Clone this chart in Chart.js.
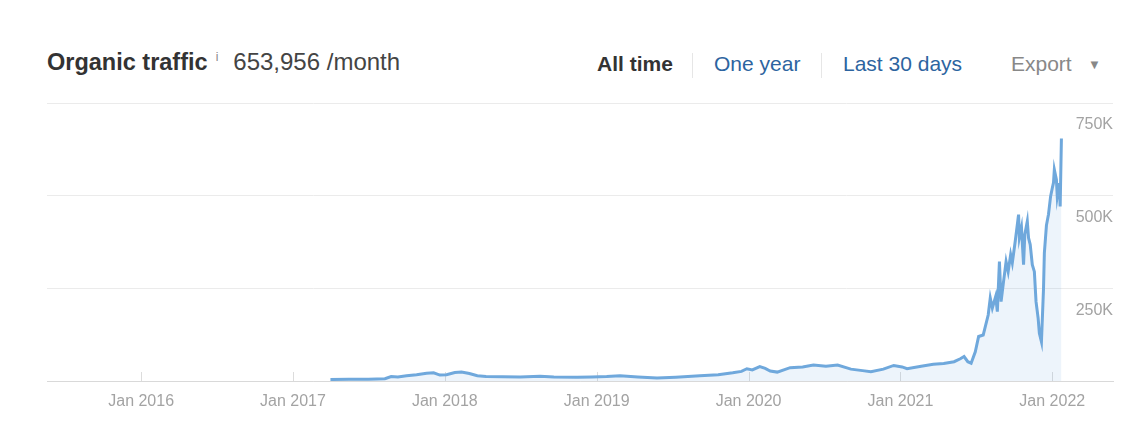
<!DOCTYPE html>
<html>
<head>
<meta charset="utf-8">
<script src="https://cdn.jsdelivr.net/npm/chart.js@4/dist/chart.umd.min.js"></script>
<style>
  html, body { margin: 0; padding: 0; background: #fff; }
  body { width: 1138px; height: 432px; position: relative; overflow: hidden; font-family: "Liberation Sans", Arial, sans-serif; }
  .head { position: absolute; top: 48px; left: 47px; white-space: nowrap; }
  .title { font-size: 23.5px; font-weight: bold; color: #333; }
  .info { font-size: 12px; color: #888; position: relative; top: -9px; margin-left: 8px; }
  .value { font-size: 24px; color: #444; margin-left: 15px; }
  .nav { position: absolute; top: 52px; left: 597px; white-space: nowrap; font-size: 21px; }
  .nav span { position: absolute; top: 0; }
  .sep { position: absolute; top: 53px; width: 1px; height: 25px; background: #e6e6e6; }
  #wrap { position: absolute; left: 0; top: 90px; width: 1138px; height: 342px; }
</style>
</head>
<body>
<div class="head"><span class="title">Organic traffic</span><span class="info">i</span><span class="value">653,956 /month</span></div>
<div class="nav">
  <span style="left:0; font-weight:bold; color:#333;">All time</span>
  <span style="left:117px; color:#2d64a0;">One year</span>
  <span style="left:246px; color:#2d64a0;">Last 30 days</span>
  <span style="left:414px; color:#888;">Export</span>
  <span style="left:491px; top:5px; color:#888; font-size:13px;">&#9660;</span>
</div>
<div class="sep" style="left:692px;"></div>
<div class="sep" style="left:821px;"></div>
<div id="wrap"><canvas id="trafficChart"></canvas></div>
<script>
// organic traffic readings (date, visits per month)
const dates = [
  '2017-04-01', '2017-05-15', '2017-07-01', '2017-08-10', '2017-08-25', '2017-09-10',
  '2017-10-01', '2017-10-25', '2017-11-18', '2017-12-05', '2017-12-20', '2018-01-05',
  '2018-01-25', '2018-02-10', '2018-03-01', '2018-03-20', '2018-04-10', '2018-05-20',
  '2018-07-01', '2018-08-18', '2018-09-20', '2018-11-15', '2018-12-20', '2019-01-25',
  '2019-02-26', '2019-04-10', '2019-05-26', '2019-07-10', '2019-09-06', '2019-10-20',
  '2019-11-24', '2019-12-15', '2019-12-28', '2020-01-10', '2020-01-28', '2020-02-10',
  '2020-02-22', '2020-03-10', '2020-04-10', '2020-05-10', '2020-06-05', '2020-07-05',
  '2020-08-02', '2020-09-03', '2020-10-01', '2020-10-21', '2020-11-20', '2020-12-15',
  '2021-01-05', '2021-01-17', '2021-02-20', '2021-03-21', '2021-04-15', '2021-05-10',
  '2021-05-25', '2021-06-03', '2021-06-12', '2021-06-20', '2021-06-30', '2021-07-08',
  '2021-07-19', '2021-07-31', '2021-08-05', '2021-08-10', '2021-08-18', '2021-08-22',
  '2021-08-27', '2021-08-31', '2021-09-05', '2021-09-12', '2021-09-17', '2021-09-23',
  '2021-09-27', '2021-10-04', '2021-10-09', '2021-10-12', '2021-10-14', '2021-10-19',
  '2021-10-24', '2021-10-27', '2021-11-02', '2021-11-05', '2021-11-09', '2021-11-14',
  '2021-11-19', '2021-11-23', '2021-11-28', '2021-12-01', '2021-12-06', '2021-12-11',
  '2021-12-13', '2021-12-18', '2021-12-23', '2021-12-28', '2022-01-01', '2022-01-04',
  '2022-01-06', '2022-01-11', '2022-01-13', '2022-01-18', '2022-01-20', '2022-01-23'
];
const traffic = [
  4000, 4500, 5000, 6000, 12000, 11000,
  14000, 17000, 21000, 22000, 16000, 17000,
  23000, 24000, 20000, 14000, 12000, 11500,
  11000, 13000, 11000, 10000, 11000, 12000,
  14000, 11000, 8000, 10000, 14000, 17000,
  22000, 26000, 33000, 30000, 39000, 34000,
  27000, 24000, 36000, 38000, 43000, 40000,
  43000, 32000, 28000, 25000, 32000, 42000,
  38000, 33000, 40000, 45000, 47000, 52000,
  60000, 66000, 52000, 48000, 79000, 120000,
  124000, 178000, 224000, 197000, 228000, 187000,
  322000, 214000, 260000, 322000, 295000, 341000,
  319000, 377000, 422000, 449000, 387000, 414000,
  314000, 395000, 431000, 386000, 368000, 314000,
  295000, 214000, 170000, 129000, 106000, 250000,
  345000, 420000, 450000, 498000, 520000, 535000,
  570000, 543000, 498000, 534000, 471000, 654000
];
const yTicks = [0, 250000, 500000, 750000];
const xRange = [2015.38, 2022.4];

function toYear(d) {
  let t = new Date(d + 'T00:00:00Z');
  let start = Date.UTC(t.getUTCFullYear(), 0, 1);
  return t.getUTCFullYear() + (t - start) / (365 * 86400000);
}

// small year marks standing on the x axis
const yearMarks = {
  id: 'yearMarks',
  beforeDatasetsDraw(chart) {
    let x = chart.scales.x;
    let ctx = chart.ctx;
    let bottom = chart.chartArea.bottom;
    ctx.save();
    ctx.strokeStyle = '#dcdcdc';
    ctx.lineWidth = 1;
    x.ticks.forEach(t => {
      let px = Math.round(x.getPixelForValue(t.value)) + 0.5;
      ctx.beginPath();
      ctx.moveTo(px, bottom - 9);
      ctx.lineTo(px, bottom);
      ctx.stroke();
    });
    ctx.restore();
  }
};

let ctx = document.getElementById('trafficChart').getContext('2d');
let myChart = new Chart(ctx, {
  type: 'line',
  data: {
    datasets: [{
      label: 'Organic traffic',
      data: dates.map((d, i) => ({ x: toYear(d), y: traffic[i] })),
      borderColor: '#6fa8dc',
      backgroundColor: 'rgba(111, 168, 220, 0.12)',
      borderWidth: 3,
      pointRadius: 0,
      tension: 0,
      fill: 'origin'
    }]
  },
  plugins: [yearMarks],
  options: {
    responsive: true,
    maintainAspectRatio: false,
    animation: false,
    layout: { padding: { top: 13, left: 47, right: 25, bottom: 0 } },
    plugins: { legend: { display: false }, tooltip: { enabled: false } },
    scales: {
      x: {
        type: 'linear',
        min: xRange[0],
        max: xRange[1],
        afterFit: scale => { scale.height = 51; },
        grid: { display: false },
        border: { display: true, color: '#d9d9d9' },
        ticks: {
          stepSize: 1,
          includeBounds: false,
          padding: 3,
          color: '#a3a3a3',
          font: { family: '"Liberation Sans", Arial, sans-serif', size: 16 },
          maxRotation: 0,
          callback: v => 'Jan ' + v
        }
      },
      y: {
        position: 'right',
        min: 0,
        max: 750000,
        afterBuildTicks: axis => { axis.ticks = yTicks.map(v => ({ value: v })); },
        grid: { color: '#ebebeb', drawTicks: false },
        border: { display: false },
        ticks: {
          mirror: true,
          padding: 0,
          labelOffset: 22,
          color: '#a3a3a3',
          font: { family: '"Liberation Sans", Arial, sans-serif', size: 16 },
          callback: v => v === 0 ? '' : (v / 1000) + 'K'
        }
      }
    }
  }
});
</script>
</body>
</html>
